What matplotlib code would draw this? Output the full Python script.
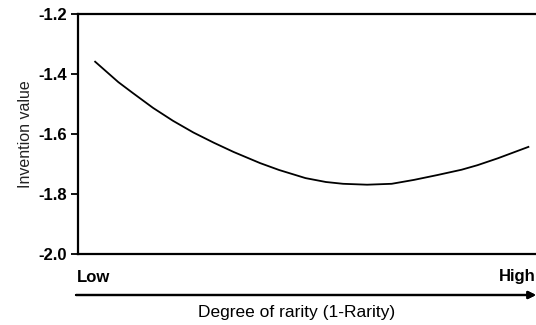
import matplotlib
matplotlib.use("Agg")
import matplotlib.pyplot as plt

plt.rcParams["font.family"] = ["Liberation Sans", "DejaVu Sans"]

# degree of rarity (0 = low, 1 = high) and invention value
rarity = [0.037, 0.087, 0.118, 0.162, 0.205, 0.249, 0.293, 0.336, 0.393, 0.434, 0.491,
          0.535, 0.572, 0.624, 0.677, 0.725, 0.775, 0.828, 0.862, 0.906, 0.972]
invention = [-1.359, -1.427, -1.463, -1.513, -1.556, -1.595, -1.629, -1.66, -1.697, -1.72, -1.747,
             -1.76, -1.766, -1.769, -1.766, -1.753, -1.737, -1.719, -1.704, -1.681, -1.643]

y_ticks = [-2.0, -1.8, -1.6, -1.4, -1.2]

fig = plt.figure(figsize=(5.36, 3.25), dpi=100)
ax = fig.add_axes([78 / 536, 1 - 254 / 325, 1 - 78 / 536 + 0.01, 240 / 325])

ax.plot(rarity, invention, color="black", lw=1.3)
ax.set_xlim(0, 1)
ax.set_ylim(-2.0, -1.2)
ax.set_yticks(y_ticks)
ax.set_yticklabels([f"{t:.1f}" for t in y_ticks], fontsize=12, fontweight="bold")
ax.set_xticks([])
ax.tick_params(axis="y", length=5, width=1.3, pad=3)
for side in ["left", "top", "bottom"]:
    ax.spines[side].set_linewidth(1.6)
ax.spines["right"].set_visible(False)
ax.set_ylabel("Invention value", fontsize=11.5, color="#222222", labelpad=4)

# x axis drawn as a labelled arrow below the plot
fig.text(77 / 536, 1 - 277 / 325, "Low", fontsize=12, fontweight="bold", va="center", ha="left")
fig.text(1.0, 1 - 277 / 325, "High", fontsize=12, fontweight="bold", va="center", ha="right")
fig.add_artist(plt.annotate("", xy=(1.0, 1 - 295 / 325), xytext=(76 / 536, 1 - 295 / 325),
                            xycoords="figure fraction",
                            arrowprops=dict(arrowstyle="-|>", color="black", lw=1.6,
                                            mutation_scale=11, shrinkA=0, shrinkB=0)))
fig.text(297 / 536, 1 - 312 / 325, "Degree of rarity (1-Rarity)", fontsize=12.5,
         va="center", ha="center")

fig.savefig("out.png", dpi=100)
